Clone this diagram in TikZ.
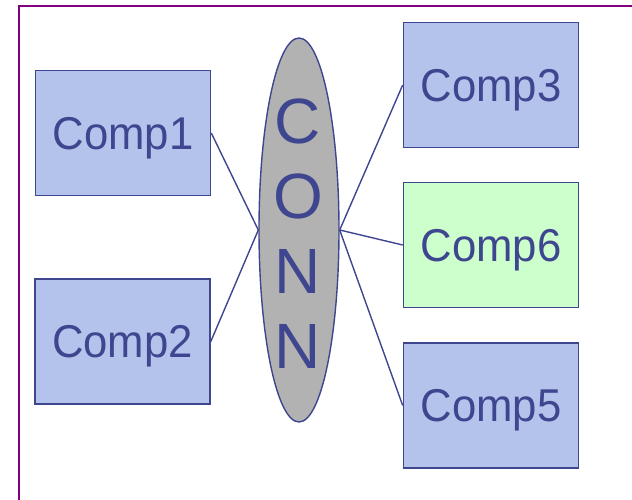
\documentclass[tikz,border=0pt]{standalone}
\usepackage{fontspec}
\setmainfont{Liberation Sans}
\usetikzlibrary{shapes.geometric}
\definecolor{edge}{HTML}{3F4690}
\definecolor{boxfill}{HTML}{B4C3EB}
\definecolor{greenfill}{HTML}{CCFFCC}
\definecolor{connfill}{HTML}{B2B2B2}
\definecolor{frame}{HTML}{800080}
\newcommand{\complabel}[1]{\scalebox{0.95}[1]{#1}}
\tikzset{
  comp/.style={draw=edge, line width=1.6pt, fill=boxfill, minimum width=175pt, minimum height=125pt, inner sep=0pt, text depth=0pt, text=edge, font=\fontsize{46}{50}\selectfont},
  link/.style={draw=edge, line width=1.4pt},
}
\begin{document}
\begin{tikzpicture}[x=1pt,y=-1pt]
\useasboundingbox (0,0) rectangle (632,500);
\draw[frame, line width=2pt] (18.5,520) -- (18.5,6.5) -- (650,6.5);
\node[comp] (c1) at (123,133) {\complabel{Comp1}};
\node[comp] (c2) at (122.5,341.5) {\complabel{Comp2}};
\node[comp] (c3) at (491,85) {\complabel{Comp3}};
\node[comp, fill=greenfill] (c6) at (491,245) {\complabel{Comp6}};
\node[comp] (c5) at (491,405.5) {\complabel{Comp5}};
\node[ellipse, draw=edge, line width=1.4pt, fill=connfill, minimum width=80pt, minimum height=384pt, inner sep=0pt] (conn) at (299,230) {};
\node[text=edge, font=\fontsize{64}{75}\selectfont, align=center] (connt) at (298,234) {C\\O\\N\\N};
\draw[link] (c1.east) -- (conn.west);
\draw[link] (c2.east) -- (conn.west);
\draw[link] (conn.east) -- (c3.west);
\draw[link] (conn.east) -- (c6.west);
\draw[link] (conn.east) -- (c5.west);
\end{tikzpicture}
\end{document}
